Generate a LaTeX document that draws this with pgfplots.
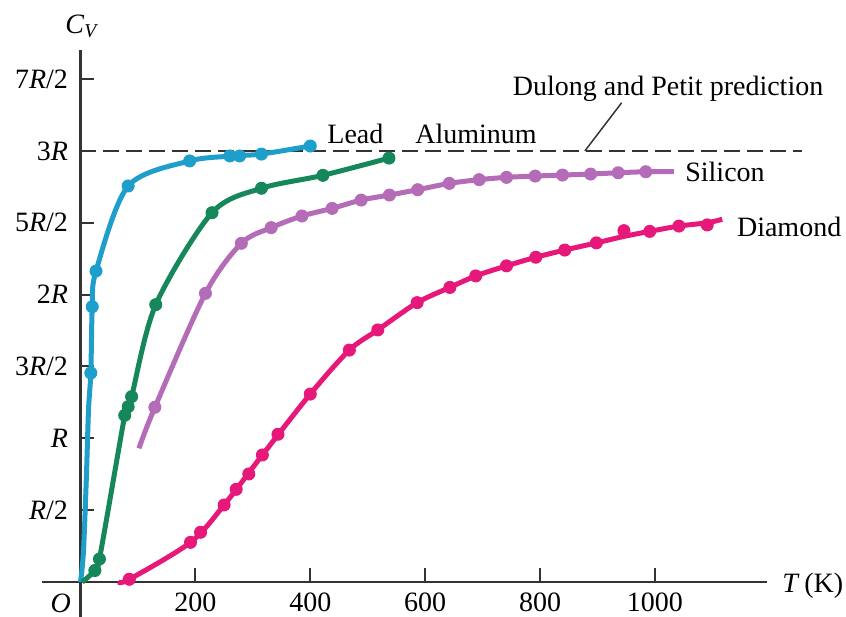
\documentclass[border=0pt]{standalone}
\usepackage{fontspec}
\setmainfont{Liberation Serif}
\usepackage{pgfplots}
\pgfplotsset{compat=1.18}

\definecolor{leadc}{HTML}{1E9FCB}
\definecolor{alumc}{HTML}{15875A}
\definecolor{silic}{HTML}{B46CB8}
\definecolor{diamc}{HTML}{E6197A}

\begin{document}
\begin{tikzpicture}[font=\fontsize{11.2bp}{13bp}\selectfont\rmfamily]
\useasboundingbox (-16.8bp,-0.2bp) rectangle (321.6bp,246.6bp);
\begin{axis}[
  at={(0,0)}, anchor=south west,
  x=0.2298bp, y=57.48bp,
  xmin=-67, xmax=1195, ymin=-0.24, ymax=3.70,
  axis lines=middle,
  axis line style={line width=0.9bp, black!80},
  every inner x axis line/.append style={-},
  every inner y axis line/.append style={-},
  xtick={200,400,600,800,1000},
  ytick={0.5,1,1.5,2,2.5,3,3.5},
  yticklabels={\textit{R}/2,\textit{R},3\textit{R}/2,2\textit{R},5\textit{R}/2,3\textit{R},7\textit{R}/2},
  /pgf/number format/assume math mode=true,
  /pgf/number format/1000 sep={},
  tick align=inside,
  major tick length=5.5bp,
  tick style={line width=0.8bp, black!80},
  tick label style={font=\fontsize{11.2bp}{13bp}\selectfont\rmfamily},
  xticklabel style={yshift=-0.8bp},
  yticklabel style={xshift=-1.5bp},
  clip=false,
]
% Dulong and Petit
\addplot[black!80, line width=0.8bp, dash pattern=on 6.4bp off 2.8bp] coordinates {(0,3) (1256,3)};
\draw[black!80, line width=0.6bp] (axis cs:878,3) -- (axis cs:942,3.335);

% Lead
\addplot[leadc, line width=2bp, smooth, tension=0.5] coordinates {
(0,0) (5,0.2) (10,0.7) (14,1.2) (18,1.455) (20.5,1.916) (27,2.164) (83,2.756)
(190,2.93) (268,2.965) (315,2.978) (400,3.034)};
\addplot[only marks, mark=*, mark size=2.4bp, leadc] coordinates {
(18,1.455) (20.5,1.916) (27,2.164) (83,2.756) (190,2.93) (260,2.965) (277,2.965)
(315,2.978) (400,3.034)};

% Aluminum
\addplot[alumc, line width=2bp, smooth, tension=0.5] coordinates {
(3,0) (25,0.08) (33,0.16) (77,1.16) (83,1.22) (89,1.29) (131,1.93) (229,2.57)
(315,2.74) (422,2.83) (537,2.95)};
\addplot[only marks, mark=*, mark size=2.4bp, alumc] coordinates {
(25,0.08) (33,0.16) (77,1.16) (83,1.22) (89,1.29) (131,1.93) (229,2.57)
(315,2.74) (422,2.83) (537,2.95)};

% Silicon
\addplot[silic, line width=2bp, smooth, tension=0.5] coordinates {
(101.7,0.93) (129.5,1.216) (217.5,2.009) (280,2.357) (332,2.466) (385.5,2.547)
(438,2.6) (488.6,2.658) (537.8,2.693) (587,2.73) (642,2.774) (694,2.80)
(741.6,2.816) (791.5,2.825) (839,2.832) (888,2.839) (936,2.848) (984,2.855)
(1033,2.855)};
\addplot[only marks, mark=*, mark size=2.4bp, silic] coordinates {
(129.5,1.216) (217.5,2.009) (280,2.357) (332,2.466) (385.5,2.547)
(438,2.6) (488.6,2.658) (537.8,2.693) (587,2.73) (642,2.774) (694,2.80)
(741.6,2.816) (791.5,2.825) (839,2.832) (888,2.839) (936,2.848) (984,2.855)};

% Diamond
\addplot[diamc, line width=2bp, smooth, tension=0.5] coordinates {
(65.7,0) (85,0.019) (191.5,0.276) (250,0.536) (316.6,0.884) (400,1.308)
(468,1.614) (517.5,1.754) (586,1.944) (643,2.05) (688,2.13) (741.6,2.2)
(792.6,2.26) (843,2.31) (898,2.36) (946,2.405) (990.8,2.44) (1041.7,2.477)
(1091,2.5) (1117,2.524)};
\addplot[only marks, mark=*, mark size=2.4bp, diamc] coordinates {
(85,0.019) (191.5,0.276) (209,0.346) (250,0.536) (271,0.645) (293,0.752)
(316.6,0.884) (343.8,1.028) (400,1.308) (468,1.614) (517.5,1.754) (586,1.944)
(643,2.05) (688,2.13) (741.6,2.2) (792.6,2.26) (843,2.31) (898,2.36)
(946,2.445) (990.8,2.44) (1041.7,2.477) (1091,2.485)};

% labels
\node[anchor=base west, inner sep=0] at (axis cs:429,3.053) {Lead};
\node[anchor=base west, inner sep=0] at (axis cs:582,3.053) {Aluminum};
\node[anchor=base west, inner sep=0] at (axis cs:752,3.389) {Dulong and Petit prediction};
\node[anchor=base west, inner sep=0] at (axis cs:1052,2.786) {Silicon};
\node[anchor=base west, inner sep=0] at (axis cs:1142,2.403) {Diamond};
\node[anchor=base west, inner sep=0] at (axis cs:-27,3.82) {\textit{C}\textsubscript{\textit{V}}};
\node[anchor=base west, inner sep=0] at (axis cs:1221,-0.07) {\textit{T}\,(K)};
\node[anchor=base west, inner sep=0] at (axis cs:-53,-0.215) {\textit{O}};
\end{axis}
\end{tikzpicture}
\end{document}
